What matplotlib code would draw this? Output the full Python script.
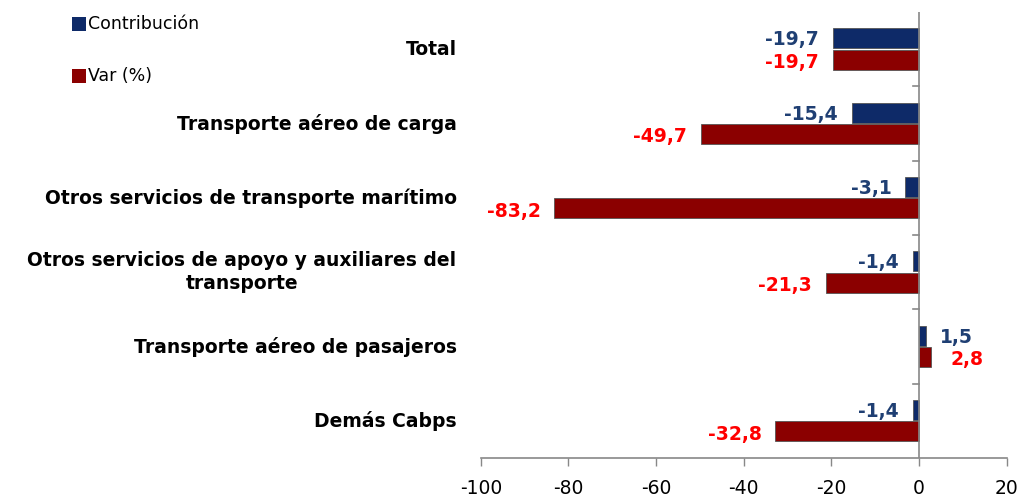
import matplotlib
matplotlib.use("Agg")
import matplotlib.pyplot as plt
from matplotlib.patches import Rectangle

categories = ["Total", "Transporte aéreo de carga", "Otros servicios de transporte marítimo",
              "Otros servicios de apoyo y auxiliares del\ntransporte", "Transporte aéreo de pasajeros",
              "Demás Cabps"]
contribucion = [-19.7, -15.4, -3.1, -1.4, 1.5, -1.4]
variacion = [-19.7, -49.7, -83.2, -21.3, 2.8, -32.8]
xticks = [-100, -80, -60, -40, -20, 0, 20]

blue = "#0E2A68"
red = "#8B0000"
blue_txt = "#1F3F73"
red_txt = "#FF0000"

fig = plt.figure(figsize=(10.23, 4.98), dpi=100)
ax = fig.add_axes([0.470, 0.080, 0.514, 0.896])

h = 0.27
n = len(categories)
ypos = list(range(n))
yb = [y - 0.145 for y in ypos]
yr = [y + 0.14 for y in ypos]
ax.barh(yb, contribucion, height=h, color=blue, edgecolor="#555555", linewidth=0.6, zorder=3)
ax.barh(yr, variacion, height=h, color=red, edgecolor="#555555", linewidth=0.6, zorder=3)

def fmt(v):
    return f"{v:.1f}".replace(".", ",")

for y, v in zip(yb, contribucion):
    off = 10 if v >= 0 else -10
    ax.annotate(fmt(v), (v, y), xytext=(off, -1), textcoords="offset points",
                ha="left" if v >= 0 else "right", va="center", color=blue_txt,
                fontsize=13.5, fontweight="bold")
for y, v in zip(yr, variacion):
    off = 14 if v >= 0 else -10
    ax.annotate(fmt(v), (v, y), xytext=(off, -2), textcoords="offset points",
                ha="left" if v >= 0 else "right", va="center", color=red_txt,
                fontsize=13.5, fontweight="bold")

ax.set_xlim(-100, 20)
ax.set_ylim(n - 0.5, -0.5)
ax.set_xticks(xticks)
ax.set_xticklabels([str(t) for t in xticks], fontsize=13.5)
ax.tick_params(axis="x", length=6, color="#888888", width=1, pad=9)
for s in ["top", "right", "left"]:
    ax.spines[s].set_visible(False)
ax.spines["bottom"].set_color("#888888")
ax.spines["bottom"].set_linewidth(1.2)
ax.set_yticks([])

# vertical axis at zero with category boundary ticks
ax.axvline(0, color="#888888", linewidth=1.2, zorder=4)
for b in [y + 0.5 for y in ypos[:-1]]:
    ax.plot([-1.3, 0], [b, b], color="#888888", linewidth=1.2, zorder=4, clip_on=False)

for y, c in zip(ypos, categories):
    ax.text(-0.046, y, c, transform=ax.get_yaxis_transform(), ha="right", va="center",
            fontsize=13.5, fontweight="bold", linespacing=1.25, multialignment="center")

# legend
fig.patches.append(Rectangle((72 / 1023, 1 - 31 / 498), 14 / 1023, 14 / 498,
                             transform=fig.transFigure, facecolor=blue, edgecolor="none"))
fig.text(88 / 1023, 1 - 24 / 498, "Contribución", fontsize=12.5, va="center", ha="left")
fig.patches.append(Rectangle((72 / 1023, 1 - 83 / 498), 14 / 1023, 14 / 498,
                             transform=fig.transFigure, facecolor=red, edgecolor="none"))
fig.text(88 / 1023, 1 - 76 / 498, "Var (%)", fontsize=12.5, va="center", ha="left")

fig.savefig("out.png", dpi=100)
